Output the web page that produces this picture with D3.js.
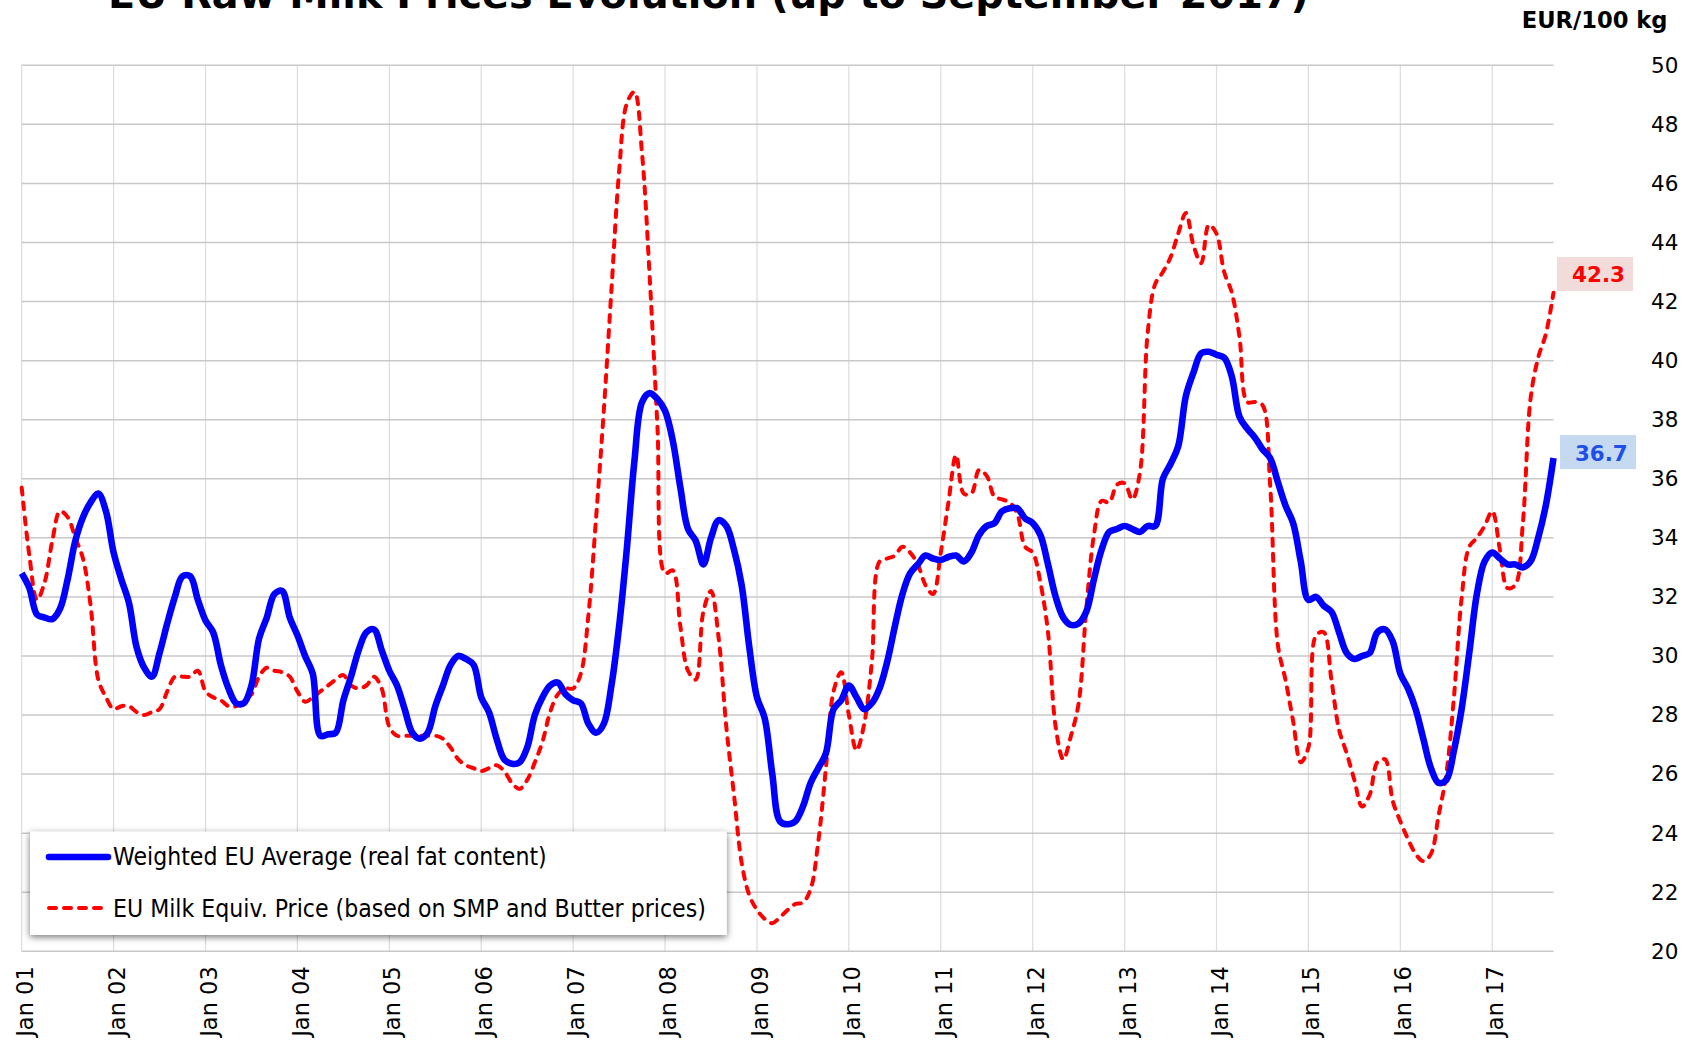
<!DOCTYPE html>
<html><head><meta charset="utf-8">
<script src="https://cdn.jsdelivr.net/npm/d3@7"></script>
<style>
html,body{margin:0;padding:0;background:#fff;overflow:hidden}
svg{display:block}
text{font-family:"DejaVu Sans",Verdana,sans-serif}
</style></head><body>
<svg id="chart" width="1692" height="1041"></svg>
<script>
// ---------------- data ----------------
const titleText = "EU Raw Milk Prices Evolution (up to September 2017)";
const unitText = "EUR/100 kg";
const yearLabels = ["Jan 01","Jan 02","Jan 03","Jan 04","Jan 05","Jan 06","Jan 07","Jan 08","Jan 09",
  "Jan 10","Jan 11","Jan 12","Jan 13","Jan 14","Jan 15","Jan 16","Jan 17"];
const yTicks = [20,22,24,26,28,30,32,34,36,38,40,42,44,46,48,50];
const seriesNames = ["Weighted EU Average (real fat content)",
  "EU Milk Equiv. Price (based on SMP and Butter prices)"];
// monthly values Jan 2001 .. Sep 2017
const weightedAvg = [
32.8,32.3,31.4,31.3,31.25,31.6,32.6,33.9,34.7,35.2,35.5,34.9,
33.5,32.6,31.8,30.3,29.6,29.3,30.1,31.1,32.0,32.7,32.7,31.9,
31.2,30.8,29.7,28.9,28.4,28.4,29.0,30.6,31.3,32.1,32.2,31.3,
30.7,30.0,29.4,27.3,27.35,27.4,28.5,29.3,30.2,30.8,30.9,30.2,
29.5,29.0,28.2,27.4,27.2,27.4,28.3,29.0,29.7,30.0,29.9,29.7,
28.6,28.1,27.2,26.5,26.35,26.4,26.9,28.0,28.6,29.0,29.1,28.7,
28.5,28.4,27.7,27.4,27.7,29.0,31.0,33.6,36.6,38.6,38.9,38.7,
38.3,37.3,35.7,34.3,33.9,33.1,34.0,34.6,34.4,33.6,32.4,30.3,
28.6,27.9,26.0,24.4,24.3,24.4,24.9,25.7,26.2,26.7,28.2,28.5,
29.0,28.6,28.2,28.4,28.9,29.8,31.0,32.1,32.8,33.1,33.4,33.3,
33.25,33.35,33.4,33.2,33.5,34.1,34.4,34.5,34.9,35.0,35.0,34.66,
34.5,34.1,33.1,32.0,31.3,31.05,31.1,31.5,32.6,33.6,34.2,34.3,
34.4,34.3,34.2,34.4,34.4,36.0,36.5,37.1,38.8,39.6,40.25,40.3,
40.2,40.1,39.46,38.1,37.7,37.4,37.0,36.7,35.9,35.1,34.5,33.2,
31.9,32.0,31.7,31.5,30.8,30.1,29.9,30.0,30.1,30.8,30.9,30.5,
29.4,28.9,28.2,27.2,26.2,25.7,25.8,26.8,28.2,30.1,32.1,33.2,
33.5,33.3,33.1,33.1,33.0,33.2,34.0,35.1,36.7];
const milkEquiv = [
35.7,33.4,31.9,32.5,33.9,34.9,34.7,34.0,33.3,31.7,29.2,28.6,
28.2,28.3,28.3,28.1,28.0,28.1,28.2,28.8,29.3,29.3,29.3,29.5,
28.8,28.6,28.5,28.3,28.3,28.5,28.7,29.3,29.6,29.5,29.45,29.3,
28.8,28.45,28.6,28.8,29.0,29.2,29.35,29.0,28.9,29.0,29.3,28.9,
27.6,27.3,27.3,27.3,27.3,27.3,27.3,27.2,26.9,26.5,26.3,26.2,
26.1,26.2,26.3,26.1,25.7,25.5,25.8,26.4,27.1,28.1,28.7,28.9,
28.9,29.4,31.4,34.7,38.3,42.4,46.4,48.7,49.1,47.0,42.8,37.8,
32.8,32.9,31.0,29.5,29.2,31.5,32.2,30.6,27.6,25.3,23.0,21.9,
21.4,21.1,20.95,21.15,21.4,21.6,21.65,22.1,23.7,26.2,28.8,29.45,
28.0,26.8,27.7,29.8,33.2,33.3,33.4,33.7,33.5,33.1,32.4,32.1,
33.5,35.2,36.8,35.5,35.5,36.3,36.1,35.4,35.3,35.2,34.8,33.7,
33.5,32.5,30.8,27.6,26.5,27.3,28.4,31.6,34.1,35.25,35.2,35.8,
35.85,35.3,36.2,40.9,42.6,43.0,43.5,44.3,45.0,43.9,43.3,44.6,
44.3,43.0,42.3,40.8,38.6,38.6,38.5,35.8,30.4,29.2,27.8,26.4,
26.9,30.7,30.8,29.2,27.5,26.7,25.8,24.9,25.3,26.4,26.5,25.1,
24.4,23.8,23.3,23.05,23.3,24.6,26.0,28.6,31.95,33.7,34.0,34.4,
34.9,33.6,32.3,32.4,34.5,38.7,40.1,40.9,42.3];

// ---------------- layout ----------------
const svg = d3.select("#chart");
const plot = {left:21.7, right:1553.5, top:65.3, bottom:951.3};
const x = d3.scaleLinear().domain([0, weightedAvg.length-1]).range([plot.left, plot.right]);
const y = d3.scaleLinear().domain([20,50]).range([plot.bottom, plot.top]);
const yearIdx = yearLabels.map((d,i)=>i*12);

function fit(sel, target){
  const w = sel.node().getComputedTextLength();
  const fs = parseFloat(sel.attr("font-size"));
  sel.attr("font-size", fs*target/w);
  return sel;
}

const defs = svg.append("defs");
const f = defs.append("filter").attr("id","sh").attr("x","-5%").attr("y","-20%").attr("width","110%").attr("height","140%");
f.append("feDropShadow").attr("dx",0).attr("dy",2).attr("stdDeviation",3.5)
  .attr("flood-color","#000").attr("flood-opacity",0.55);

// gridlines
const grid = svg.append("g");
grid.selectAll("line.v").data(yearIdx).join("line")
  .attr("x1",d=>x(d)).attr("x2",d=>x(d)).attr("y1",plot.top).attr("y2",plot.bottom)
  .attr("stroke","#dcdcdc").attr("stroke-width",1.2);
grid.selectAll("line.h").data(yTicks).join("line")
  .attr("x1",plot.left).attr("x2",plot.right).attr("y1",d=>y(d)).attr("y2",d=>y(d))
  .attr("stroke","#c8c8c8").attr("stroke-width",1.5);

// y axis (right)
const yAxis = svg.append("g").attr("transform","translate(1651,0)")
  .call(d3.axisRight(y).tickValues(yTicks).tickSize(0).tickPadding(0));
yAxis.select(".domain").remove();
yAxis.selectAll("text").attr("font-size",21.5).attr("fill","#000")
  .attr("font-family","DejaVu Sans, Verdana, sans-serif").attr("text-anchor","start").attr("x",0);

// x axis
const xAxis = svg.append("g").attr("transform",`translate(0,${plot.bottom})`)
  .call(d3.axisBottom(x).tickValues(yearIdx).tickFormat((d,i)=>yearLabels[i]).tickSize(0));
xAxis.select(".domain").remove();
xAxis.selectAll("text").attr("font-size",22.5).attr("fill","#000")
  .attr("font-family","DejaVu Sans, Verdana, sans-serif")
  .attr("transform","rotate(-90)").attr("text-anchor","end")
  .attr("x",-15).attr("y",2.7).attr("dy","0.35em");

// lines
const line = d3.line().x((d,i)=>x(i)).y(d=>y(d)).curve(d3.curveCatmullRom.alpha(0.5));
svg.append("path").datum(milkEquiv).attr("d",line).attr("fill","none")
  .attr("stroke","#ff0000").attr("stroke-width",4).attr("stroke-linecap","round")
  .attr("stroke-dasharray","7,8");
svg.append("path").datum(weightedAvg).attr("d",line).attr("fill","none")
  .attr("stroke","#0000ff").attr("stroke-width",6.6).attr("stroke-linejoin","round");

// legend
const lg = svg.append("g");
lg.append("rect").attr("x",30).attr("y",831.7).attr("width",696.7).attr("height",103.3)
  .attr("fill","#fff").attr("filter","url(#sh)");
lg.append("line").attr("x1",49).attr("x2",108).attr("y1",857).attr("y2",857)
  .attr("stroke","#0000ff").attr("stroke-width",6.6).attr("stroke-linecap","round");
lg.append("line").attr("x1",49).attr("x2",108).attr("y1",908).attr("y2",908)
  .attr("stroke","#ff0000").attr("stroke-width",4).attr("stroke-linecap","round")
  .attr("stroke-dasharray","7,8");
const lt1 = lg.append("text").attr("x",113).attr("y",865).attr("font-size",22)
  .attr("font-family","DejaVu Sans Condensed, DejaVu Sans, sans-serif").attr("font-stretch","condensed")
  .attr("fill","#000").text(seriesNames[0]);
const lt2 = lg.append("text").attr("x",113).attr("y",916.7).attr("font-size",22)
  .attr("font-family","DejaVu Sans Condensed, DejaVu Sans, sans-serif").attr("font-stretch","condensed")
  .attr("fill","#000").text(seriesNames[1]);
fit(lt1,434); fit(lt2,593);

// end value labels
const last = weightedAvg.length-1;
const redY = y(milkEquiv[last]) - 18.7;
const blueY = y(weightedAvg[last]) - 6;
svg.append("rect").attr("x",1557).attr("y",redY-17).attr("width",76).attr("height",34).attr("fill","#f2dcdb");
fit(svg.append("text").attr("x",1572).attr("y",redY+7.7).attr("font-size",20).attr("font-weight","bold")
  .attr("fill","#ff0000").text(milkEquiv[last].toFixed(1)),53);
svg.append("rect").attr("x",1560).attr("y",blueY-17).attr("width",76).attr("height",34).attr("fill","#c5d9f1");
fit(svg.append("text").attr("x",1575).attr("y",blueY+9).attr("font-size",20).attr("font-weight","bold")
  .attr("fill","#1f4fe6").text(weightedAvg[last].toFixed(1)),52.7);

// unit label
fit(svg.append("text").attr("x",1521.7).attr("y",27.8).attr("font-size",19).attr("font-weight","bold")
  .attr("fill","#000").text(unitText),146);

// title (partially cut at top, as in the original)
fit(svg.append("text").attr("x",108).attr("y",8).attr("font-size",34).attr("font-weight","bold")
  .attr("fill","#000").text(titleText),1201);
</script>
</body></html>
